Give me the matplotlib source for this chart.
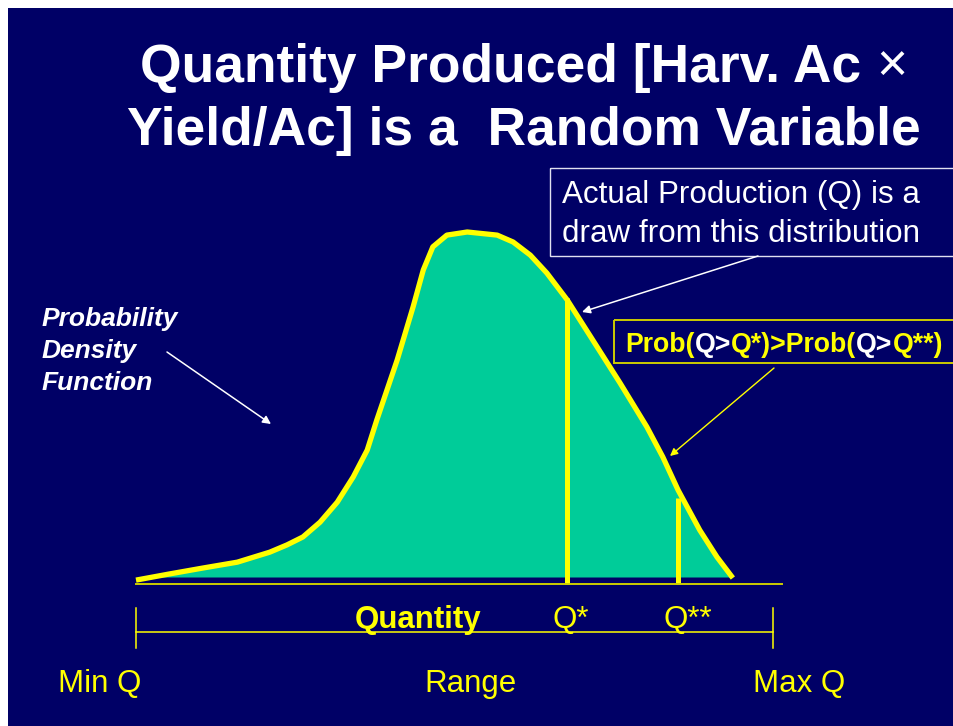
import matplotlib
matplotlib.use('Agg')
import matplotlib.pyplot as plt
from matplotlib.patches import Rectangle

plt.rcParams['font.family'] = ['Liberation Sans', 'DejaVu Sans']

navy = '#000066'
teal = '#00cc99'
yellow = '#ffff00'

# density curve (Min Q = 0, Max Q = 100, peak density = 1)
curve_q = [0, 5.3, 10.5, 15.9, 21.0, 23.7, 26.2, 28.9, 31.6, 34.1, 36.3, 37.8,
           41.0, 43.5, 45.1, 46.6, 48.8, 52.0, 56.7, 59.2, 61.9, 64.5, 67.7,
           71.7, 76.0, 80.2, 82.7, 85.1, 88.5, 91.2, 93.7]
curve_d = [-0.009, 0.009, 0.026, 0.043, 0.072, 0.093, 0.116, 0.159, 0.217, 0.290, 0.368, 0.455,
           0.629, 0.783, 0.890, 0.957, 0.991, 1.0, 0.991, 0.971, 0.933, 0.881, 0.803,
           0.687, 0.562, 0.435, 0.348, 0.252, 0.136, 0.058, -0.003]

q_star = 67.7
q_star_d = 0.81
q_2star = 85.1
q_2star_d = 0.23

title_lines = [[('Quantity Produced [Harv. Ac ', 'bold'), ('\u00d7', 'normal')],
               [('Yield/Ac] is a  Random Variable', 'bold')]]
pdf_lines = ['Probability', 'Density', 'Function']
box_lines = ['Actual Production (Q) is a', 'draw from this distribution']
prob_parts = [('Prob(', yellow), ('Q>', 'white'), ('Q*)>Prob(', yellow),
              ('Q>', 'white'), ('Q**)', yellow)]


def chain_text(ax, x, y, parts, **kw):
    # draw text pieces one after another on the same baseline
    prev = None
    for piece, style in parts:
        opts = dict(kw)
        opts.update(style)
        if prev is None:
            prev = ax.text(x, y, piece, ha='left', va='baseline', **opts)
        else:
            prev = ax.annotate(piece, xy=(1, 0), xycoords=prev, ha='left', va='bottom', **opts)
    return prev


W, H = 954, 726
fig = plt.figure(figsize=(W / 100, H / 100), dpi=100, facecolor='white')

# background axes in slide pixel coordinates
bg = fig.add_axes([8 / W, 0, (W - 8) / W, (H - 8) / H], zorder=0)
bg.set_facecolor(navy)
bg.set_xlim(8, W)
bg.set_ylim(H, 8)
bg.axis('off')
bg.add_patch(Rectangle((8, 8), W, H, facecolor=navy, edgecolor='none', zorder=0))

# chart axes: q 0..100 -> x 136..773 px, density 0..1 -> y 577..232 px
x0, x1, y0, y1 = 136, 773, 577, 232
ax = fig.add_axes([x0 / W, 1 - y0 / H, (x1 - x0) / W, (y0 - y1) / H], zorder=1)
ax.set_xlim(0, 100)
ax.set_ylim(0, 1)
ax.axis('off')
ax.patch.set_alpha(0)

ax.fill_between(curve_q, curve_d, 0, where=[d >= 0 for d in curve_d],
                color=teal, lw=0, interpolate=True)
ax.plot(curve_q, curve_d, color=yellow, lw=3.8, solid_capstyle='butt',
        solid_joinstyle='round', clip_on=False)
ax.plot([q_star, q_star], [-0.02, q_star_d], color=yellow, lw=3.6, clip_on=False,
        solid_capstyle='butt')
ax.plot([q_2star, q_2star], [-0.02, q_2star_d], color=yellow, lw=3.6, clip_on=False,
        solid_capstyle='butt')
ax.plot([0, 101.4], [-0.02, -0.02], color='#cccc00', lw=1.4, clip_on=False)

# range bar
ax.plot([0, 100], [-0.159, -0.159], color=yellow, lw=1.1, clip_on=False)
ax.plot([0, 0], [-0.09, -0.206], color=yellow, lw=1.1, clip_on=False)
ax.plot([100, 100], [-0.09, -0.206], color=yellow, lw=1.1, clip_on=False)

# title
title_x = [140, 127]
for i, parts in enumerate(title_lines):
    chain_text(bg, title_x[i], 82 + i * 63,
               [(p, dict(fontweight=w)) for p, w in parts],
               color='white', fontsize=38.4)

# left label
for i, line in enumerate(pdf_lines):
    bg.text(42, 326 + i * 32, line, color='white', fontsize=19, fontweight='bold',
            style='italic', ha='left', va='baseline')
bg.annotate('', xy=(271, 424), xytext=(167, 352),
            arrowprops=dict(arrowstyle='-|>', color='white', lw=1.1, mutation_scale=12,
                            shrinkA=0, shrinkB=0))

# actual production box
bg.add_patch(Rectangle((550, 168), 420, 88, facecolor='none', edgecolor='#e0e0f0', lw=1.0))
for i, line in enumerate(box_lines):
    bg.text(562, 203 + i * 39, line, color='white', fontsize=22.6, ha='left', va='baseline')
bg.annotate('', xy=(582, 312), xytext=(758, 256),
            arrowprops=dict(arrowstyle='-|>', color='white', lw=1.1, mutation_scale=12,
                            shrinkA=0, shrinkB=0))

# probability box
bg.add_patch(Rectangle((614, 320), 360, 43, facecolor='none', edgecolor='#cccc00', lw=1.4))
chain_text(bg, 625, 352, [(p, dict(color=c)) for p, c in prob_parts],
           fontsize=19.2, fontweight='bold')
bg.annotate('', xy=(670, 456), xytext=(774, 368),
            arrowprops=dict(arrowstyle='-|>', color=yellow, lw=1.0, mutation_scale=11,
                            shrinkA=0, shrinkB=0))

# axis labels
bg.text(418, 628, 'Quantity', color=yellow, fontsize=22.5, fontweight='bold',
        ha='center', va='baseline')
bg.text(571, 628, 'Q*', color=yellow, fontsize=22.5, ha='center', va='baseline')
bg.text(688, 628, 'Q**', color=yellow, fontsize=22.5, ha='center', va='baseline')
bg.text(100, 692, 'Min Q', color=yellow, fontsize=22.5, ha='center', va='baseline')
bg.text(471, 692, 'Range', color=yellow, fontsize=22.5, ha='center', va='baseline')
bg.text(799, 692, 'Max Q', color=yellow, fontsize=22.5, ha='center', va='baseline')

fig.savefig('out.png', dpi=100, facecolor='white')
